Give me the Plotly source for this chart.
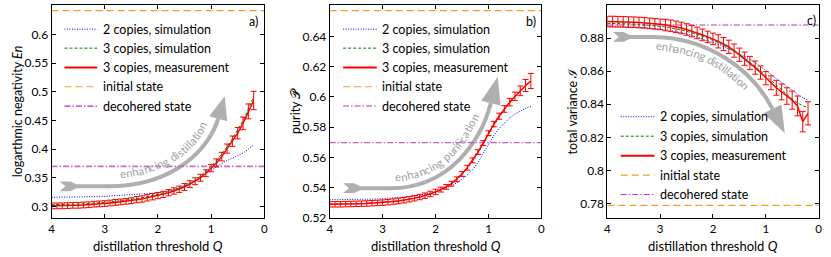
import math
import plotly.graph_objects as go

# ---------------- data ----------------
Q = [4.0, 3.9, 3.8, 3.7, 3.6, 3.5, 3.4, 3.3, 3.2, 3.1, 3.0, 2.9, 2.8, 2.7, 2.6, 2.5,
     2.4, 2.3, 2.2, 2.1, 2.0, 1.9, 1.8, 1.7, 1.6, 1.5, 1.4, 1.3, 1.2, 1.1, 1.0, 0.9,
     0.8, 0.7, 0.6, 0.5, 0.4, 0.3, 0.2]

# panel a: logarithmic negativity
sim2_a = [0.316, 0.316, 0.316, 0.316, 0.3162, 0.3165, 0.3167, 0.317, 0.317, 0.3172, 0.3175,
          0.318, 0.3185, 0.319, 0.3195, 0.320, 0.321, 0.322, 0.3225, 0.323, 0.324, 0.3255,
          0.327, 0.329, 0.332, 0.336, 0.340, 0.345, 0.351, 0.357, 0.364, 0.369, 0.375,
          0.380, 0.384, 0.388, 0.393, 0.400, 0.408]
sim3_a = [0.303, 0.303, 0.3032, 0.3035, 0.304, 0.304, 0.3045, 0.305, 0.3055, 0.306, 0.307,
          0.308, 0.309, 0.310, 0.311, 0.312, 0.313, 0.315, 0.317, 0.319, 0.321, 0.323,
          0.326, 0.329, 0.332, 0.336, 0.341, 0.346, 0.353, 0.361, 0.370, 0.380, 0.391,
          0.404, 0.418, 0.433, 0.450, 0.470, 0.492]
meas_a = [0.301, 0.301, 0.301, 0.3015, 0.302, 0.302, 0.3025, 0.303, 0.304, 0.3045, 0.305,
          0.306, 0.307, 0.308, 0.309, 0.310, 0.312, 0.313, 0.315, 0.317, 0.319, 0.321,
          0.324, 0.327, 0.330, 0.334, 0.339, 0.344, 0.350, 0.358, 0.367, 0.376, 0.387,
          0.401, 0.414, 0.428, 0.445, 0.466, 0.485]
err_a = [0.005, 0.005, 0.005, 0.005, 0.005, 0.005, 0.005, 0.005, 0.005, 0.005, 0.005,
         0.005, 0.005, 0.005, 0.005, 0.005, 0.0055, 0.0055, 0.0055, 0.0055, 0.0055, 0.0055,
         0.0055, 0.0055, 0.0055, 0.006, 0.006, 0.006, 0.006, 0.006, 0.0065, 0.007, 0.0075,
         0.008, 0.009, 0.010, 0.011, 0.013, 0.016]

# panel b: purity
sim2_b = [0.5320, 0.5320, 0.5320, 0.5320, 0.5321, 0.5321, 0.5322, 0.5323, 0.5324, 0.5325,
          0.5327, 0.5329, 0.5331, 0.5334, 0.5337, 0.5341, 0.5345, 0.5350, 0.5356, 0.5362,
          0.5370, 0.5382, 0.5396, 0.5413, 0.5432, 0.5455, 0.5485, 0.5520, 0.5565, 0.5625,
          0.5690, 0.5745, 0.5790, 0.5828, 0.5860, 0.5886, 0.5908, 0.5925, 0.5938]
sim3_b = [0.5292, 0.5292, 0.5292, 0.5293, 0.5294, 0.5295, 0.5296, 0.5297, 0.5299, 0.5301,
          0.5303, 0.5306, 0.5309, 0.5313, 0.5318, 0.5324, 0.5331, 0.5339, 0.5348, 0.5359,
          0.5372, 0.5386, 0.5403, 0.5425, 0.5452, 0.5487, 0.5530, 0.5578, 0.5633, 0.5692,
          0.5755, 0.5815, 0.5868, 0.5917, 0.5962, 0.6002, 0.6040, 0.6075, 0.6100]
meas_b = [0.5290, 0.5290, 0.5290, 0.5291, 0.5292, 0.5293, 0.5294, 0.5295, 0.5297, 0.5299,
          0.5301, 0.5304, 0.5308, 0.5312, 0.5317, 0.5323, 0.5330, 0.5338, 0.5347, 0.5358,
          0.5372, 0.5387, 0.5405, 0.5426, 0.5455, 0.5490, 0.5532, 0.5580, 0.5635, 0.5695,
          0.5760, 0.5820, 0.5872, 0.5920, 0.5965, 0.6003, 0.6040, 0.6075, 0.6105]
err_b = [0.0018, 0.0018, 0.0018, 0.0018, 0.0018, 0.0018, 0.0018, 0.0018, 0.0018, 0.0018,
         0.0018, 0.0018, 0.0018, 0.0018, 0.0018, 0.0018, 0.0018, 0.0018, 0.0018, 0.0018,
         0.0018, 0.0016, 0.0016, 0.0016, 0.0016, 0.0016, 0.0016, 0.0016, 0.0016, 0.0016,
         0.0016, 0.0018, 0.0020, 0.0022, 0.0025, 0.0028, 0.0032, 0.0040, 0.0050]

# panel c: total variance
sim2_c = [0.8870, 0.8870, 0.8870, 0.8869, 0.8868, 0.8867, 0.8866, 0.8864, 0.8862, 0.8859,
          0.8856, 0.8852, 0.8847, 0.8841, 0.8834, 0.8826, 0.8817, 0.8807, 0.8797, 0.8786,
          0.8775, 0.8763, 0.8750, 0.8737, 0.8722, 0.8706, 0.8690, 0.8672, 0.8652, 0.8630,
          0.8605, 0.8580, 0.8555, 0.8530, 0.8505, 0.8480, 0.8460, 0.8440, 0.8425]
sim3_c = [0.8890, 0.8890, 0.8889, 0.8888, 0.8887, 0.8886, 0.8884, 0.8882, 0.8879, 0.8876,
          0.8872, 0.8868, 0.8863, 0.8857, 0.8850, 0.8842, 0.8833, 0.8823, 0.8812, 0.8800,
          0.8788, 0.8774, 0.8759, 0.8742, 0.8723, 0.8703, 0.8680, 0.8656, 0.8630, 0.8602,
          0.8573, 0.8543, 0.8513, 0.8484, 0.8456, 0.8431, 0.8409, 0.8390, 0.8380]
meas_c = [0.8901, 0.8901, 0.8900, 0.8899, 0.8898, 0.8897, 0.8895, 0.8893, 0.8890, 0.8887,
          0.8884, 0.8880, 0.8875, 0.8869, 0.8862, 0.8853, 0.8843, 0.8832, 0.8820, 0.8808,
          0.8796, 0.8781, 0.8765, 0.8748, 0.8725, 0.8700, 0.8676, 0.8650, 0.8622, 0.8592,
          0.8558, 0.8530, 0.8500, 0.8475, 0.8450, 0.8425, 0.8390, 0.8295, 0.8345]
err_c = [0.0032, 0.0032, 0.0032, 0.0032, 0.0032, 0.0032, 0.0032, 0.0032, 0.0032, 0.0032,
         0.0032, 0.0035, 0.0035, 0.0035, 0.0035, 0.0035, 0.0035, 0.0035, 0.0035, 0.0035,
         0.0035, 0.0040, 0.0040, 0.0040, 0.0040, 0.0040, 0.0040, 0.0040, 0.0040, 0.0040,
         0.0040, 0.0042, 0.0045, 0.0048, 0.0050, 0.0055, 0.0060, 0.0062, 0.0070]

Q_span = [4, 0]
initial_levels = [0.642, 0.657, 0.7788]
decohered_levels = [0.370, 0.5697, 0.888]

y_titles = ["logarthmic negativity <i>En</i>", "purity 𝒫", "total variance ℐ"]
y_ranges = [[0.28, 0.652], [0.52, 0.6608], [0.7712, 0.9002]]
y_ticks = [[0.3, 0.35, 0.4, 0.45, 0.5, 0.55, 0.6],
           [0.52, 0.54, 0.56, 0.58, 0.6, 0.62, 0.64],
           [0.78, 0.8, 0.82, 0.84, 0.86, 0.88]]
y_ticktext = [["0.3", "0.35", "0.4", "0.45", "0.5", "0.55", "0.6"],
              ["0.52", "0.54", "0.56", "0.58", "0.6", "0.62", "0.64"],
              ["0.78", "0.8", "0.82", "0.84", "0.86", "0.88"]]
x_ticks = [4, 3, 2, 1, 0]
x_title = "distillation threshold <i>Q</i>"
panel_labels = ["a)", "b)", "c)"]
arrow_texts = ["enhancing distillation", "enhancing purification", "enhancing distillation"]
series_names = ["2 copies, simulation", "3 copies, simulation", "3 copies, measurement",
                "initial state", "decohered state"]

# ---------------- styling ----------------
W, H = 831, 257
FONT = "Lato"
GRAY = "rgb(175,175,175)"
TGRAY = "rgb(160,160,160)"
C_BLUE = "rgb(0,0,255)"
C_GREEN = "rgb(0,128,0)"
C_RED = "rgb(255,0,0)"
C_ORANGE = "rgb(240,160,40)"
C_PURPLE = "rgb(185,50,185)"
C_PURPLE_A = "rgb(200,110,200)"

styles = [
    dict(color=C_BLUE, width=1, dash="1px,1.5px"),
    dict(color=C_GREEN, width=1, dash="3px,2px"),
    dict(color=C_RED, width=1.5, dash="solid"),
    dict(color=C_ORANGE, width=1.2, dash="7px,4px"),
    dict(color=C_PURPLE, width=1, dash="6px,2px,1.5px,2px"),
]
dec_styles = [dict(color=C_PURPLE_A, width=1.8, dash="6px,2px,1.5px,2px"),
              styles[4], styles[4]]

x_dom_px = [(49, 263.5), (329.5, 543), (609.5, 822.5)]
y_dom_px = (5, 224)


def px(x, y):
    return x / W, 1 - y / H


sims2 = [sim2_a, sim2_b, sim2_c]
sims3 = [sim3_a, sim3_b, sim3_c]
meas = [meas_a, meas_b, meas_c]
errs = [err_a, err_b, err_c]

fig = go.Figure()
layout = dict(
    width=W, height=H, margin=dict(l=0, r=0, t=0, b=0),
    paper_bgcolor="white", plot_bgcolor="white",
    font=dict(family=FONT, size=12, color="black"),
    showlegend=False,
)

green_on_top = [True, False, True]

for i in range(3):
    sfx = "" if i == 0 else str(i + 1)
    xa, ya = "x" + sfx, "y" + sfx
    common = dict(xaxis=xa, yaxis=ya, showlegend=False)

    tr_dec = go.Scatter(x=Q_span, y=[decohered_levels[i]] * 2, mode="lines",
                        name=series_names[4], line=dec_styles[i], **common)
    tr_ini = go.Scatter(x=Q_span, y=[initial_levels[i]] * 2, mode="lines",
                        name=series_names[3], line=styles[3], **common)
    tr_b = go.Scatter(x=Q, y=sims2[i], mode="lines", name=series_names[0],
                      line=styles[0], **common)
    tr_g = go.Scatter(x=Q, y=sims3[i], mode="lines", name=series_names[1],
                      line=styles[1], **common)
    tr_r = go.Scatter(x=Q, y=meas[i], mode="lines", name=series_names[2],
                      line=styles[2],
                      error_y=dict(type="data", array=errs[i], color=C_RED,
                                   thickness=1, width=3), **common)
    order = [tr_dec, tr_ini, tr_b]
    order += [tr_r, tr_g] if green_on_top[i] else [tr_g, tr_r]
    for t in order:
        fig.add_trace(t)

    x0, x1 = x_dom_px[i]
    axis_common = dict(showline=True, linecolor="black", linewidth=1, mirror="ticks",
                       ticks="inside", ticklen=4, tickcolor="black", tickwidth=1,
                       showgrid=False, zeroline=False, ticklabeloverflow="allow")
    layout["xaxis" + sfx] = dict(domain=[x0 / W, x1 / W], anchor=ya, range=[4, 0],
                                 tickvals=x_ticks, ticktext=[str(v) for v in x_ticks],
                                 tickfont=dict(family=FONT, size=11.5, color="black"),
                                 **axis_common)
    layout["yaxis" + sfx] = dict(domain=[1 - y_dom_px[1] / H, 1 - y_dom_px[0] / H],
                                 anchor=xa, range=y_ranges[i], tickvals=y_ticks[i],
                                 ticktext=y_ticktext[i],
                                 tickfont=dict(family=FONT, size=12, color="black"),
                                 **axis_common)

fig.update_layout(**layout)

annotations = []
shapes = []

# axis titles and panel labels
y_title_x = [15, 295, 574]
label_pos = [(253, 22), (532, 22), (815, 21)]
for i in range(3):
    x0, x1 = x_dom_px[i]
    ax, ay = px((x0 + x1) / 2, 248)
    annotations.append(dict(x=ax, y=ay, xref="paper", yref="paper", showarrow=False,
                            text=x_title, font=dict(family=FONT, size=13), borderpad=0,
                            xanchor="center", yanchor="middle", yshift=-5))
    tx, ty = px(y_title_x[i], (y_dom_px[0] + y_dom_px[1]) / 2)
    annotations.append(dict(x=tx, y=ty, xref="paper", yref="paper", showarrow=False,
                            text=y_titles[i], textangle=-90,
                            font=dict(family=FONT, size=12.5), xanchor="center",
                            yanchor="middle"))
    lx, ly = px(*label_pos[i])
    annotations.append(dict(x=lx, y=ly, xref="paper", yref="paper", showarrow=False,
                            text=panel_labels[i], font=dict(family=FONT, size=12.5),
                            xanchor="center", yanchor="middle"))

# legends (drawn per panel inside the axes)
legend_geo = [
    dict(x0=62, x1=95, tx=99, rows=[30, 49.5, 69.3, 89.2, 109]),
    dict(x0=343, x1=377, tx=380, rows=[30, 49.5, 69.3, 89.2, 109]),
    dict(x0=623, x1=657, tx=661, rows=[120, 140, 160, 180, 200]),
]
for gi, g in enumerate(legend_geo):
    for k, name in enumerate(series_names):
        st = dict(styles[k]) if k != 4 else dict(dec_styles[gi])
        if k == 2:
            st["width"] = 2
        ya_ = 1 - g["rows"][k] / H
        shapes.append(dict(type="line", xref="paper", yref="paper",
                           x0=g["x0"] / W, x1=g["x1"] / W, y0=ya_, y1=ya_, line=st))
        annotations.append(dict(x=g["tx"] / W, y=ya_, xref="paper", yref="paper",
                                showarrow=False, text=name, xanchor="left",
                                yanchor="middle", font=dict(family=FONT, size=12.5)))


# gray arrows (decoration, drawn in pixel space)
def path_str(cmds):
    out = []
    for c in cmds:
        if c[0] == "Z":
            out.append("Z")
            continue
        letter, pts = c[0], c[1:]
        coords = []
        for (x, y) in pts:
            u, v = px(x, y)
            coords.append(f"{u:.5f},{v:.5f}")
        out.append(letter + " ".join(coords))
    return " ".join(out)


def cubic(P, t):
    a = (1 - t) ** 3
    b = 3 * (1 - t) ** 2 * t
    c = 3 * (1 - t) * t ** 2
    d = t ** 3
    return (a * P[0][0] + b * P[1][0] + c * P[2][0] + d * P[3][0],
            a * P[0][1] + b * P[1][1] + c * P[2][1] + d * P[3][1])


arrow_geo = [
    dict(tail=[(57, 186.5), (68, 186.5), (74, 189.5), (106, 189.5), (106, 193.5), (74, 193.5),
               (68, 196.5), (57, 196.5), (63, 191.5)],
         curve=[(105, 191.5), (175, 192), (209, 150), (217, 122)],
         hl=24, hw=9.5, side=1, off=12.5, s0=13),
    dict(tail=[(343, 188.5), (354, 188.5), (360, 191.5), (391, 191.5), (391, 195.5),
               (360, 195.5), (354, 198.5), (343, 198.5), (349, 193.5)],
         curve=[(390, 193.5), (450, 194), (482, 145), (492, 106)],
         hl=28, hw=10, side=1, off=11.5, s0=5),
    dict(tail=[(615, 33), (626, 33), (632, 36), (658, 36), (658, 40), (632, 40), (626, 43),
               (615, 43), (621, 38)],
         curve=[(657, 38), (710, 39), (755, 70), (776, 112)],
         hl=28, hw=10, side=-1, off=9, s0=2),
]

for g in arrow_geo:
    t = g["tail"]
    shapes.append(dict(type="path", xref="paper", yref="paper",
                       path=path_str([("M", t[0])] + [("L", p) for p in t[1:]] + [("Z",)]),
                       fillcolor=GRAY, line=dict(width=0), layer="below"))
    c = g["curve"]
    shapes.append(dict(type="path", xref="paper", yref="paper",
                       path=path_str([("M", c[0]), ("C", c[1], c[2], c[3])]),
                       line=dict(color=GRAY, width=4), layer="below"))
    dx, dy = c[3][0] - c[2][0], c[3][1] - c[2][1]
    L = math.hypot(dx, dy)
    ux, uy = dx / L, dy / L
    tip = (c[3][0] + g["hl"] * ux, c[3][1] + g["hl"] * uy)
    b1 = (c[3][0] + g["hw"] * (-uy), c[3][1] + g["hw"] * ux)
    b2 = (c[3][0] - g["hw"] * (-uy), c[3][1] - g["hw"] * ux)
    shapes.append(dict(type="path", xref="paper", yref="paper",
                       path=path_str([("M", tip), ("L", b1), ("L", b2), ("Z",)]),
                       fillcolor=GRAY, line=dict(width=0), layer="below"))

# curved text placed character by character parallel to the arrow shaft
CW = {"a": 0.51, "c": 0.46, "d": 0.57, "e": 0.53, "f": 0.32, "g": 0.51, "h": 0.57,
      "i": 0.24, "l": 0.24, "n": 0.57, "o": 0.57, "p": 0.57, "r": 0.36, "s": 0.43,
      "t": 0.35, "u": 0.57, " ": 0.26}
TFS = 11.2

for i, g in enumerate(arrow_geo):
    c = g["curve"]
    N = 600
    raw = [cubic(c, k / N) for k in range(N + 1)]
    pts = []
    for k in range(N + 1):
        ka, kb = max(k - 1, 0), min(k + 1, N)
        dx = raw[kb][0] - raw[ka][0]
        dy = raw[kb][1] - raw[ka][1]
        L = math.hypot(dx, dy)
        nx, ny = (dy / L, -dx / L) if g["side"] == 1 else (-dy / L, dx / L)
        pts.append((raw[k][0] + g["off"] * nx, raw[k][1] + g["off"] * ny))
    cum = [0.0]
    for k in range(1, N + 1):
        cum.append(cum[-1] + math.hypot(pts[k][0] - pts[k - 1][0], pts[k][1] - pts[k - 1][1]))
    s = g["s0"]
    for ch in arrow_texts[i]:
        w = CW.get(ch, 0.5) * TFS
        sc = s + w / 2
        s += w
        if ch == " ":
            continue
        k = 1
        while k < N and cum[k] < sc:
            k += 1
        x, y = pts[k]
        dx = pts[k][0] - pts[k - 1][0]
        dy = pts[k][1] - pts[k - 1][1]
        ang = math.degrees(math.atan2(dy, dx))
        u, v = px(x, y)
        annotations.append(dict(x=u, y=v, xref="paper", yref="paper", showarrow=False,
                                text=ch, textangle=ang, xanchor="center", yanchor="middle",
                                font=dict(family=FONT, size=TFS, color=TGRAY)))

fig.update_layout(annotations=annotations, shapes=shapes)
fig.write_html("out.html",
               config={"displayModeBar": False},
               post_script="document.body.style.margin='0';"
                           "document.body.style.overflow='hidden';")
